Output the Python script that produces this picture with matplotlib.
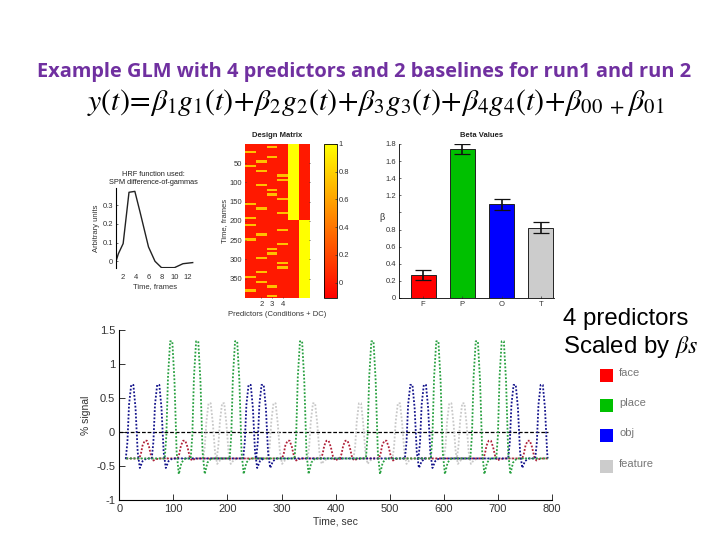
# GLM example slide: HRF, design matrix, beta values and scaled predictors

# ----------------------------------------------------------------------------------------------------------------------
#  IMPORT
# ----------------------------------------------------------------------------------------------------------------------
import matplotlib
matplotlib.use('Agg')
import matplotlib.pyplot as plt
from matplotlib.patches import Rectangle
import numpy as np

# ----------------------------------------------------------------------------------------------------------------------
#  DATA
# ----------------------------------------------------------------------------------------------------------------------
title_text = 'Example GLM with 4 predictors and 2 baselines for run1 and run 2'
equation_text = (r'$y(t)\!=\!\beta_1 g_1(t)\!+\!\beta_2 g_2(t)\!+\!\beta_3 g_3(t)\!+\!\beta_4 g_4(t)\!+\!\beta_{00}$'
                 r'$\;_{+}\,\beta_{01}$')

hrf_time = [1, 1.36, 2.1, 3, 3.9, 4.7, 6, 7, 8, 10, 11.3, 12.8]
hrf_amp  = [0, 0.04, 0.095, 0.37, 0.375, 0.264, 0.077, 0, -0.034, -0.034, -0.013, -0.007]

# rows (frames) where each predictor switches on
col1_rows = [23, 60, 157, 194, 212, 249, 345, 381]
col2_rows = [48, 72, 109, 169, 236, 297, 333, 358]
col3_rows = [11, 36, 121, 133, 273, 285, 370, 394]
col4_rows = [84, 96, 145, 181, 224, 260, 309, 321]

categories  = ['face', 'place', 'obj', 'feature']
bar_labels  = ['F', 'P', 'O', 'T']
beta_values = [0.273, 1.74, 1.094, 0.824]
beta_errors = [0.06, 0.06, 0.068, 0.066]
bar_colors  = ['#ff0000', '#00c000', '#0000ff', '#cccccc']

# one response (time offset from peak, % signal)
lobe_offsets = [-12, -9, -6, -2, 2, 6, 10, 14, 19, 26]
face_lobe    = [-0.39, -0.32, -0.2, -0.13, -0.13, -0.22, -0.36, -0.42, -0.4, -0.39]
place_lobe   = [-0.39, -0.05, 0.8, 1.33, 1.33, 0.75, -0.3, -0.62, -0.45, -0.39]
obj_lobe     = [-0.39, -0.15, 0.4, 0.69, 0.69, 0.35, -0.3, -0.53, -0.43, -0.39]
feature_lobe = [-0.39, -0.22, 0.15, 0.42, 0.42, 0.12, -0.3, -0.47, -0.42, -0.39]

face_peaks    = [49, 120, 313, 385, 420, 492, 685, 757]
place_peaks   = [96, 144, 216, 336, 468, 588, 661, 709]
obj_peaks     = [24, 72, 241, 265, 540, 565, 731, 781]
feature_peaks = [167, 192, 287, 360, 445, 517, 612, 636]

baseline_level = -0.39
time_start     = 13
time_end       = 792

# ----------------------------------------------------------------------------------------------------------------------
#  HELPERS
# ----------------------------------------------------------------------------------------------------------------------
plt.rcParams['font.family'] = ['Liberation Sans', 'DejaVu Sans']
plt.rcParams['mathtext.fontset'] = 'stix'

fig = plt.figure(figsize=(7.2, 5.4), dpi=100)
fig.patch.set_facecolor('white')


def px_axes(left, top, right, bottom):
    return fig.add_axes([left/720, 1 - bottom/540, (right - left)/720, (bottom - top)/540])


def px_text(x, y, s, **kwargs):
    return fig.text(x/720, 1 - y/540, s, **kwargs)


def build_trace(peaks, lobe):
    t = [time_start]
    y = [baseline_level]
    for peak in peaks:
        t.extend(peak + o for o in lobe_offsets)
        y.extend(lobe)
    t.append(time_end)
    y.append(baseline_level)
    t = np.array(t, dtype=float)
    y = np.array(y)
    keep = t <= time_end
    return t[keep], y[keep]


small = 5.5
ink   = '#333333'

# ----------------------------------------------------------------------------------------------------------------------
#  HEADER
# ----------------------------------------------------------------------------------------------------------------------
px_text(364, 72, title_text, color='#7030a0', fontsize=14.4, fontweight='bold', family=['Open Sans', 'DejaVu Sans'],
        ha='center', va='center')
px_text(376, 103, equation_text, color='black', fontsize=21.5, ha='center', va='center')

# ----------------------------------------------------------------------------------------------------------------------
#  HRF
# ----------------------------------------------------------------------------------------------------------------------
axis_1 = px_axes(116, 188, 194, 268)
axis_1.plot(hrf_time, hrf_amp, color='#222222', linewidth=1.0)
axis_1.set_xlim(1, 13)
axis_1.set_ylim(-0.036, 0.393)
axis_1.set_xticks([2, 4, 6, 8, 10, 12])
axis_1.set_yticks([0, 0.1, 0.2, 0.3])
axis_1.set_yticklabels(['0', '0.1', '0.2', '0.3'])
axis_1.tick_params(direction='in', length=1.5, width=0.5, labelsize=small, pad=2, colors=ink)
axis_1.tick_params(axis='x', length=0, pad=4)
axis_1.spines[['top', 'right', 'bottom']].set_visible(False)
axis_1.spines['left'].set_linewidth(0.8)
axis_1.set_xlabel('Time, frames', fontsize=small, color=ink, labelpad=2)
axis_1.set_ylabel('Arbitrary units', fontsize=small, color=ink, labelpad=2)
px_text(153, 178, 'HRF function used:\nSPM difference-of-gammas', fontsize=5.3, color='#222222', ha='center', va='center')

# ----------------------------------------------------------------------------------------------------------------------
#  DESIGN MATRIX
# ----------------------------------------------------------------------------------------------------------------------
design = np.zeros((400, 6))
for col, rows in enumerate([col1_rows, col2_rows, col3_rows, col4_rows]):
    for row in rows:
        design[row - 3:row + 3, col] = 0.72
design[:200, 4] = 1
design[200:, 5] = 1

axis_2 = px_axes(245, 144, 310, 298)
image = axis_2.imshow(design, aspect='auto', cmap='autumn', vmin=-0.11, vmax=1, interpolation='nearest',
                      extent=[0.5, 6.5, 400, 0])
axis_2.set_xticks([2, 3, 4])
axis_2.set_yticks([50, 100, 150, 200, 250, 300, 350])
axis_2.tick_params(direction='in', length=1, width=0.5, labelsize=small, pad=2, colors=ink, right=True)
for spine in axis_2.spines.values():
    spine.set_visible(False)
axis_2.set_xlabel('Predictors (Conditions + DC)', fontsize=small, color=ink, labelpad=2)
axis_2.set_ylabel('Time, frames', fontsize=small, color=ink, labelpad=1)
px_text(277, 136, 'Design Matrix', fontsize=5.5, fontweight='bold', color='#222222', ha='center', va='center')

axis_cb = px_axes(324, 144, 337, 298)
colorbar = fig.colorbar(image, cax=axis_cb)
colorbar.set_ticks([0, 0.2, 0.4, 0.6, 0.8, 1])
colorbar.set_ticklabels(['0', '0.2', '0.4', '0.6', '0.8', '1'])
colorbar.ax.tick_params(direction='in', length=1.5, width=0.5, labelsize=small, pad=1, colors=ink)
colorbar.outline.set_linewidth(0.6)

# ----------------------------------------------------------------------------------------------------------------------
#  BETA VALUES
# ----------------------------------------------------------------------------------------------------------------------
axis_3 = px_axes(399, 144, 554, 298)
positions = np.arange(1, 5)
axis_3.bar(positions, beta_values, width=0.64, color=bar_colors, edgecolor='#222222', linewidth=0.7,
           yerr=beta_errors, error_kw=dict(ecolor='#111111', elinewidth=1.2, capsize=6, capthick=0.9))
axis_3.set_xlim(0.384, 4.335)
axis_3.set_ylim(0, 1.8)
axis_3.set_xticks(positions)
axis_3.set_xticklabels(bar_labels)
axis_3.set_yticks(np.arange(0, 2, 0.2))
axis_3.set_yticklabels(['0', '0.2', '0.4', '0.6', '0.8', '', '1.2', '1.4', '1.6', '1.8'])
axis_3.tick_params(direction='in', length=1.5, width=0.5, labelsize=small, pad=2, colors=ink)
axis_3.spines[['top', 'right']].set_visible(False)
axis_3.spines['left'].set_linewidth(0.6)
axis_3.spines['bottom'].set_linewidth(0.6)
px_text(382, 217, '\u03b2', fontsize=6.5, color=ink, ha='center', va='center')
px_text(482, 136, 'Beta Values', fontsize=5.5, fontweight='bold', color='#222222', ha='center', va='center')

# ----------------------------------------------------------------------------------------------------------------------
#  SCALED PREDICTORS
# ----------------------------------------------------------------------------------------------------------------------
axis_4 = px_axes(119.3, 329.7, 552, 500)
axis_4.hlines(0, 0, time_end, color='black', linewidth=0.9, linestyle=(0, (3, 1.5)))
axis_4.hlines(baseline_level, time_start, time_end, color='#777777', linewidth=0.7, linestyle=':')
traces = [(feature_peaks, feature_lobe, '#c8c8c8'),
          (face_peaks, face_lobe, '#b02038'),
          (obj_peaks, obj_lobe, '#14148c'),
          (place_peaks, place_lobe, '#28a040')]
for peaks, lobe, color in traces:
    t, y = build_trace(peaks, lobe)
    axis_4.plot(t, y, color=color, linewidth=1.3, linestyle=(0, (1, 1)))
axis_4.set_xlim(0, 800)
axis_4.set_ylim(-1, 1.5)
axis_4.set_xticks(np.arange(0, 900, 100))
axis_4.set_yticks([-1, -0.5, 0, 0.5, 1, 1.5])
axis_4.set_yticklabels(['-1', '-0.5', '0', '0.5', '1', '1.5'])
axis_4.tick_params(direction='in', length=4, width=0.7, labelsize=8, pad=3, colors=ink)
axis_4.spines[['top', 'right']].set_visible(False)
axis_4.set_xlabel('Time, sec', fontsize=7.5, color=ink, labelpad=2)
axis_4.set_ylabel('% signal', fontsize=7.5, color=ink, labelpad=4)

# ----------------------------------------------------------------------------------------------------------------------
#  SIDE NOTE AND LEGEND
# ----------------------------------------------------------------------------------------------------------------------
px_text(563, 319, '4 predictors', fontsize=17.3, color='black', ha='left', va='center')
px_text(563, 347, r'Scaled by $\beta s$', fontsize=17.3, color='black', ha='left', va='center')

legend_tops = [369, 399, 429, 460]
for top, name, color in zip(legend_tops, categories, bar_colors):
    fig.add_artist(Rectangle((600/720, 1 - (top + 13)/540), 13/720, 13/540, transform=fig.transFigure,
                             facecolor=color, edgecolor='none'))
    px_text(619, top + 4, name, fontsize=8, color='#777777', ha='left', va='center')

fig.savefig('out.png', dpi=100)
